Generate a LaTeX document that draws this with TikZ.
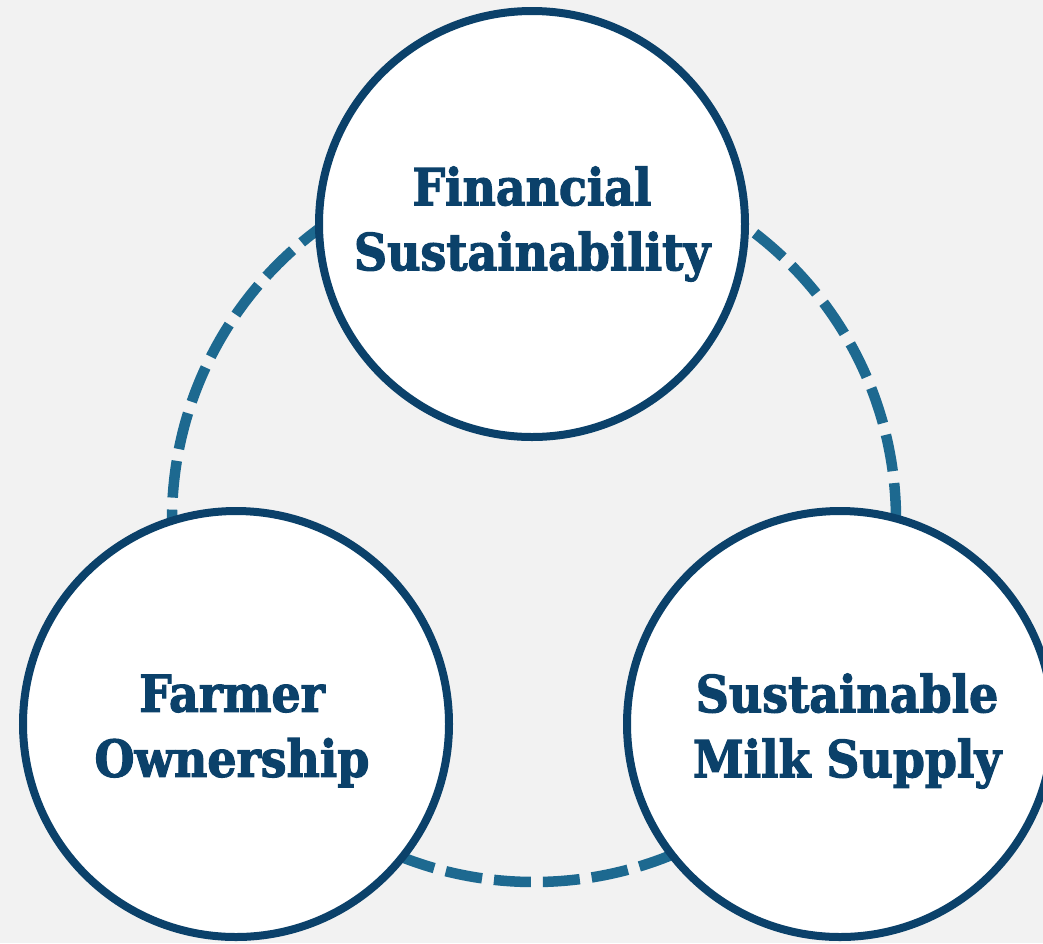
\documentclass[tikz,border=0pt]{standalone}
\usepackage{fontspec}
\newfontfamily\labfont{DejaVu Serif Condensed}[BoldFont={DejaVu Serif Condensed Bold},BoldFeatures={FakeBold=2.2}]
\definecolor{navy}{HTML}{0B416A}
\definecolor{dashblue}{HTML}{1D6990}
\definecolor{bg}{HTML}{F2F2F2}
\tikzset{
  x=1pt,y=-1pt,
  bigcircle/.style={circle,draw=navy,line width=8pt,fill=white,minimum size=426pt,inner sep=0pt},
  lab/.style={text=navy,font=\labfont\bfseries\fontsize{51}{65}\selectfont,align=center},
  ring/.style={draw=dashblue,line width=10.5pt,dash pattern=on 37pt off 12pt}
}
\begin{document}
\begin{tikzpicture}
\fill[bg] (0,0) rectangle (1043,943);
\useasboundingbox (0,0) rectangle (1043,943);
\draw[ring] (534,520) circle[radius=362pt];
\node[bigcircle] (fin) at (532,224) {};
\node[bigcircle] (farm) at (236,724) {};
\node[bigcircle] (milk) at (840,724) {};
\node[lab] (finlab) at ([yshift=0pt]fin.center) {Financial\\Sustainability};
\node[lab] (farmlab) at ([xshift=-4pt,yshift=-7pt]farm.center) {Farmer\\Ownership};
\node[lab] (milklab) at ([xshift=7pt,yshift=-7pt]milk.center) {Sustainable\\Milk Supply};
\end{tikzpicture}
\end{document}
